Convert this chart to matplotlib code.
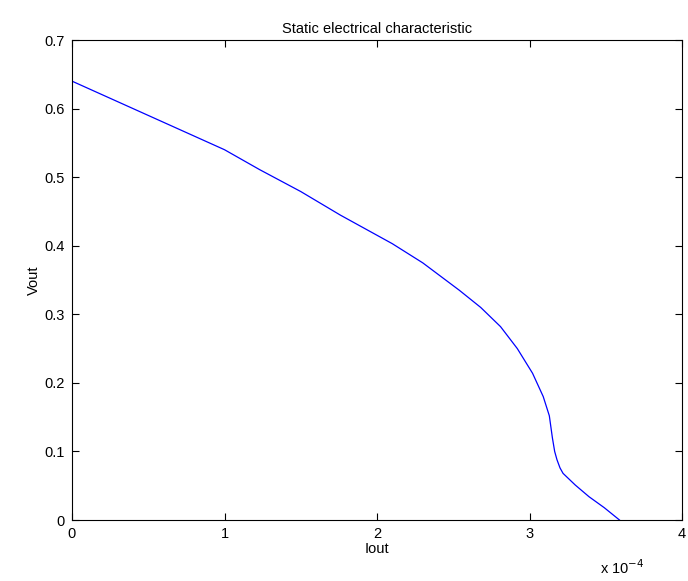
import matplotlib.pyplot as plt

plt.rcParams['font.family'] = ['Liberation Sans', 'DejaVu Sans']

# leitura aproximada da curva (Iout em A, Vout em V)
iout = [0.0, 0.32e-4, 0.64e-4, 1.0e-4, 1.23e-4, 1.5e-4, 1.76e-4, 2.1e-4,
        2.3e-4, 2.54e-4, 2.68e-4, 2.81e-4, 2.92e-4, 3.02e-4, 3.09e-4,
        3.13e-4, 3.15e-4, 3.165e-4, 3.18e-4, 3.2e-4, 3.22e-4, 3.3e-4,
        3.39e-4, 3.49e-4, 3.59e-4]
vout = [0.64, 0.608, 0.576, 0.54, 0.511, 0.479, 0.4446, 0.403,
        0.375, 0.335, 0.31, 0.282, 0.25, 0.214, 0.18,
        0.152, 0.12, 0.1, 0.088, 0.076, 0.068, 0.051,
        0.034, 0.018, 0.0]

xticks = [0, 1e-4, 2e-4, 3e-4, 4e-4]
xticklabels = ['0', '1', '2', '3', '4']
yticks = [0, 0.1, 0.2, 0.3, 0.4, 0.5, 0.6, 0.7]
yticklabels = ['0', '0.1', '0.2', '0.3', '0.4', '0.5', '0.6', '0.7']

fig = plt.figure(figsize=(6.88, 5.81), dpi=100)
ax = fig.add_axes([72 / 688, 1 - 520 / 581, 610 / 688, 480 / 581])

ax.plot(iout, vout, color='#0000ff', linewidth=0.9)

ax.set_xlim(0, 4e-4)
ax.set_ylim(0, 0.7)
ax.set_xticks(xticks)
ax.set_xticklabels(xticklabels)
ax.set_yticks(yticks)
ax.set_yticklabels(yticklabels)
ax.tick_params(direction='in', top=True, right=True, labelsize=10.5,
               length=5, width=0.8, pad=5)
for s in ax.spines.values():
    s.set_linewidth(0.8)

ax.set_title('Static electrical characteristic', fontsize=10.5, pad=5)
ax.set_xlabel('Iout', fontsize=10.5, labelpad=1)
ax.set_ylabel('Vout', fontsize=10.5, labelpad=3)

fig.text(600 / 688, 1 - 574 / 581, r'x 10$^{-4}$', fontsize=10.5)

fig.savefig('out.png', dpi=100)
